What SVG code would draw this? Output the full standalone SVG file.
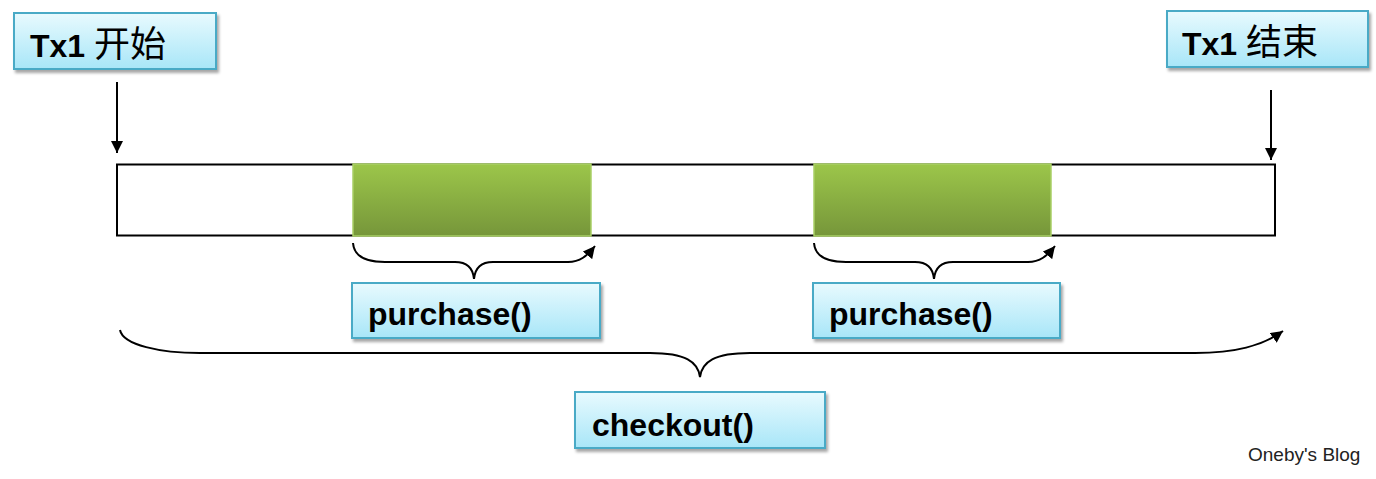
<svg xmlns="http://www.w3.org/2000/svg" width="1376" height="479" viewBox="0 0 1376 479">
  <defs>
    <linearGradient id="boxGrad" x1="0" y1="0" x2="0" y2="1">
      <stop offset="0" stop-color="#e8fafe"/>
      <stop offset="1" stop-color="#a8e6f8"/>
    </linearGradient>
    <linearGradient id="greenGrad" x1="0" y1="0" x2="0" y2="1">
      <stop offset="0" stop-color="#9cc64a"/>
      <stop offset="1" stop-color="#76963a"/>
    </linearGradient>
    <filter id="shadow" x="-10%" y="-20%" width="125%" height="150%">
      <feDropShadow dx="2" dy="3" stdDeviation="1.5" flood-color="#000" flood-opacity="0.35"/>
    </filter>
    <marker id="arrow" viewBox="0 0 10 10" refX="10" refY="5" markerWidth="12" markerHeight="12" markerUnits="userSpaceOnUse" orient="auto">
      <path d="M0,0 L10,5 L0,10 z" fill="#000"/>
    </marker>
  </defs>
  <style>
    .box { fill: url(#boxGrad); stroke: #4aaac6; stroke-width: 2; filter: url(#shadow); }
    .green { fill: url(#greenGrad); stroke: #a9d066; stroke-width: 1.5; }
    .lbl { font-family: "Liberation Sans", "Noto Sans CJK SC", sans-serif; font-weight: bold; font-size: 32px; fill: #000; }
    .cjk { font-family: "Noto Sans CJK SC", sans-serif; font-weight: normal; font-size: 36px; }
    .conn { fill: none; stroke: #000; stroke-width: 2; }
    .wm { font-family: "Liberation Sans", "DejaVu Sans", sans-serif; font-size: 19px; fill: #222; }
  </style>

  <g id="timeline">
    <rect x="117" y="164.5" width="1158" height="71" fill="#fff" stroke="#000" stroke-width="2"/>
  </g>
  <g id="segment1">
    <rect class="green" x="353" y="164" width="238" height="72"/>
  </g>
  <g id="segment2">
    <rect class="green" x="814" y="164" width="237" height="72"/>
  </g>

  <g id="connectors">
    <path class="conn" d="M117,82 L117,153" marker-end="url(#arrow)"/>
    <path class="conn" d="M1271,90 L1271,160" marker-end="url(#arrow)"/>
    <path class="conn" d="M353,243 C354,256 366,262 385,262 L455,262 C467,262 473,268 474,279 C475,268 481,262 493,262 L568,262 C580,262 587,256 595,246" marker-end="url(#arrow)"/>
    <path class="conn" d="M814,243 C815,256 827,262 846,262 L915,262 C927,262 933,268 934,279 C935,268 941,262 953,262 L1028,262 C1040,262 1047,256 1055,246" marker-end="url(#arrow)"/>
    <path class="conn" d="M120,330 C123,345 160,353 200,353 L650,353 C686,353 698,362 700,377 C702,362 714,353 750,353 L1195,353 C1235,353 1262,346 1283,331" marker-end="url(#arrow)"/>
  </g>

  <g id="tx-start">
    <rect class="box" x="14" y="13" width="202" height="56"/>
    <text class="lbl" x="30" y="57">Tx1 <tspan class="cjk">开始</tspan></text>
  </g>
  <g id="tx-end">
    <rect class="box" x="1167" y="11" width="201" height="56"/>
    <text class="lbl" x="1182" y="55">Tx1 <tspan class="cjk">结束</tspan></text>
  </g>
  <g id="purchase1">
    <rect class="box" x="352" y="283" width="248" height="55"/>
    <text class="lbl" x="368" y="325">purchase()</text>
  </g>
  <g id="purchase2">
    <rect class="box" x="813" y="283" width="247" height="55"/>
    <text class="lbl" x="829" y="325">purchase()</text>
  </g>
  <g id="checkout">
    <rect class="box" x="575" y="392" width="250" height="56"/>
    <text class="lbl" x="592" y="436">checkout()</text>
  </g>
  <g id="watermark">
    <text class="wm" x="1248" y="461">Oneby's Blog</text>
  </g>
</svg>
